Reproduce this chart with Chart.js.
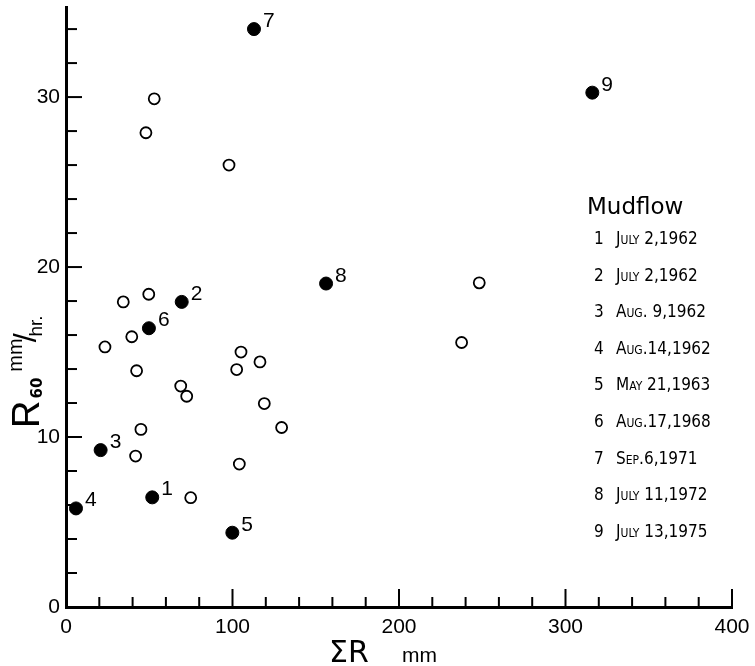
<!DOCTYPE html>
<html>
<head>
<meta charset="utf-8">
<script src="https://cdn.jsdelivr.net/npm/chart.js@4"></script>
<style>
  html, body { margin: 0; padding: 0; background: #fff; }
  canvas { display: block; }
</style>
</head>
<body>
<canvas id="mudChart" width="755" height="666"></canvas>
<script>
// mudflow events (filled dots), numbered 1..9
const mudflowNo = ['1', '2', '3', '4', '5', '6', '7', '8', '9'];
const mudflowDate = ['July 2,1962', 'July 2,1962', 'Aug. 9,1962', 'Aug.14,1962', 'May 21,1963',
                     'Aug.17,1968', 'Sep.6,1971', 'July 11,1972', 'July 13,1975'];
const mudflowX = [51.8, 69.5, 20.8, 6.0, 99.9, 49.8, 112.9, 156.2, 316.1];
const mudflowY = [6.45, 17.95, 9.23, 5.8, 4.37, 16.4, 34.0, 19.03, 30.26];

// rainfall without mudflow (open circles)
const noFlowX = [53.0, 48.0, 97.9, 34.4, 49.7, 23.4, 39.5, 42.4, 68.9, 72.5, 45.0,
                 41.8, 74.9, 102.5, 105.1, 116.5, 119.1, 129.5, 104.1, 248.2, 237.6];
const noFlowY = [29.9, 27.9, 26.0, 17.95, 18.4, 15.3, 15.9, 13.9, 13.0, 12.4, 10.45,
                 8.88, 6.43, 13.97, 15.0, 14.42, 11.97, 10.56, 8.41, 19.07, 15.56];

const xTickLabels = [0, 100, 200, 300, 400];
const yTickLabels = [0, 10, 20, 30];

const toPoints = (xs, ys) => xs.map((x, i) => ({ x: x, y: ys[i] }));

// ticks point inward, longer at labelled values
const innerTicks = {
  id: 'innerTicks',
  afterDraw(chart) {
    const ctx = chart.ctx;
    const xs = chart.scales.x, ys = chart.scales.y;
    const x0 = xs.getPixelForValue(0), y0 = ys.getPixelForValue(0);
    ctx.save();
    ctx.strokeStyle = '#000';
    ctx.lineWidth = 2;
    for (let v = 20; v <= 400; v += 20) {
      const px = xs.getPixelForValue(v);
      const len = xTickLabels.includes(v) ? 18 : 10;
      ctx.beginPath();
      ctx.moveTo(px, y0);
      ctx.lineTo(px, y0 - len);
      ctx.stroke();
    }
    for (let v = 2; v <= 34; v += 2) {
      const py = ys.getPixelForValue(v);
      const len = yTickLabels.includes(v) ? 16 : 11;
      ctx.beginPath();
      ctx.moveTo(x0, py);
      ctx.lineTo(x0 + len, py);
      ctx.stroke();
    }
    ctx.restore();
  }
};

// numbers beside the mudflow dots
const pointNumbers = {
  id: 'pointNumbers',
  afterDatasetsDraw(chart) {
    const ctx = chart.ctx;
    const meta = chart.getDatasetMeta(1);
    ctx.save();
    ctx.fillStyle = '#000';
    ctx.font = '21px "Liberation Sans", sans-serif';
    ctx.textAlign = 'left';
    ctx.textBaseline = 'alphabetic';
    meta.data.forEach((pt, i) => {
      ctx.fillText(mudflowNo[i], pt.x + 9, pt.y - 2);
    });
    ctx.restore();
  }
};

// axis titles and the mudflow date list
const annotations = {
  id: 'annotations',
  afterDraw(chart) {
    const ctx = chart.ctx;
    ctx.save();
    ctx.fillStyle = '#000';
    ctx.textBaseline = 'alphabetic';
    ctx.textAlign = 'left';

    // y title: R60 mm/hr.
    ctx.save();
    ctx.translate(39, 428);
    ctx.rotate(-Math.PI / 2);
    ctx.font = '38px "Liberation Sans", sans-serif';
    ctx.fillText('R', 0, 0);
    let off = ctx.measureText('R').width + 2;
    ctx.font = 'bold 15px "DejaVu Sans", sans-serif';
    ctx.fillText('60', off, 3);
    off += ctx.measureText('60').width + 6;
    ctx.font = '20px "Liberation Sans", sans-serif';
    ctx.fillText('mm', off, -17);
    off += ctx.measureText('mm').width - 4;
    ctx.font = '32px "Liberation Sans", sans-serif';
    ctx.fillText('/', off, -3);
    off += ctx.measureText('/').width - 3;
    ctx.font = '19px "Liberation Sans", sans-serif';
    ctx.fillText('hr.', off, 3);
    ctx.restore();

    // x title: ΣR mm
    ctx.font = '30px "DejaVu Sans", sans-serif';
    ctx.fillText('\u03A3R', 329, 662);
    ctx.font = '21px "Liberation Sans", sans-serif';
    ctx.fillText('mm', 402, 662);

    // list of mudflows
    ctx.font = '23px "DejaVu Sans", sans-serif';
    ctx.fillText('Mudflow', 587, 214);
    mudflowNo.forEach((n, i) => {
      const base = 244 + i * 36.6;
      ctx.font = '17px "DejaVu Sans Condensed", "DejaVu Sans", sans-serif';
      ctx.fontVariantCaps = 'normal';
      ctx.fillText(n, 594, base);
      ctx.fontVariantCaps = 'small-caps';
      ctx.fillText(mudflowDate[i], 616, base);
      ctx.fontVariantCaps = 'normal';
    });
    ctx.restore();
  }
};

const tickFont = { family: '"Liberation Sans", sans-serif', size: 21 };

new Chart(document.getElementById('mudChart'), {
  type: 'scatter',
  data: {
    datasets: [
      {
        label: 'No mudflow',
        data: toPoints(noFlowX, noFlowY),
        pointStyle: 'circle',
        pointRadius: 5.5,
        pointBorderWidth: 1.8,
        pointBackgroundColor: '#fff',
        pointBorderColor: '#000'
      },
      {
        label: 'Mudflow',
        data: toPoints(mudflowX, mudflowY),
        pointStyle: 'circle',
        pointRadius: 6.5,
        pointBorderWidth: 1,
        pointBackgroundColor: '#000',
        pointBorderColor: '#000'
      }
    ]
  },
  options: {
    responsive: false,
    animation: false,
    layout: { padding: { top: 7, right: 23, left: 0, bottom: 0 } },
    plugins: {
      legend: { display: false },
      tooltip: { enabled: false }
    },
    scales: {
      x: {
        type: 'linear',
        min: 0,
        max: 400,
        afterFit: (s) => { s.height = 59; s.paddingLeft = 0; s.paddingRight = 0; },
        border: { display: true, color: '#000', width: 3 },
        grid: { display: true, drawOnChartArea: false, drawTicks: false },
        ticks: {
          stepSize: 20,
          padding: 8,
          maxRotation: 0,
          autoSkip: false,
          color: '#000',
          font: tickFont,
          callback: (v) => xTickLabels.includes(v) ? String(v) : ''
        }
      },
      y: {
        type: 'linear',
        min: 0,
        max: 35.27,
        afterFit: (s) => { s.width = 66; s.paddingTop = 0; s.paddingBottom = 0; },
        border: { display: true, color: '#000', width: 3 },
        grid: { display: true, drawOnChartArea: false, drawTicks: false },
        ticks: {
          stepSize: 2,
          padding: 6,
          autoSkip: false,
          color: '#000',
          font: tickFont,
          callback: (v) => yTickLabels.includes(v) ? String(v) : ''
        }
      }
    }
  },
  plugins: [innerTicks, pointNumbers, annotations]
});
</script>
</body>
</html>
